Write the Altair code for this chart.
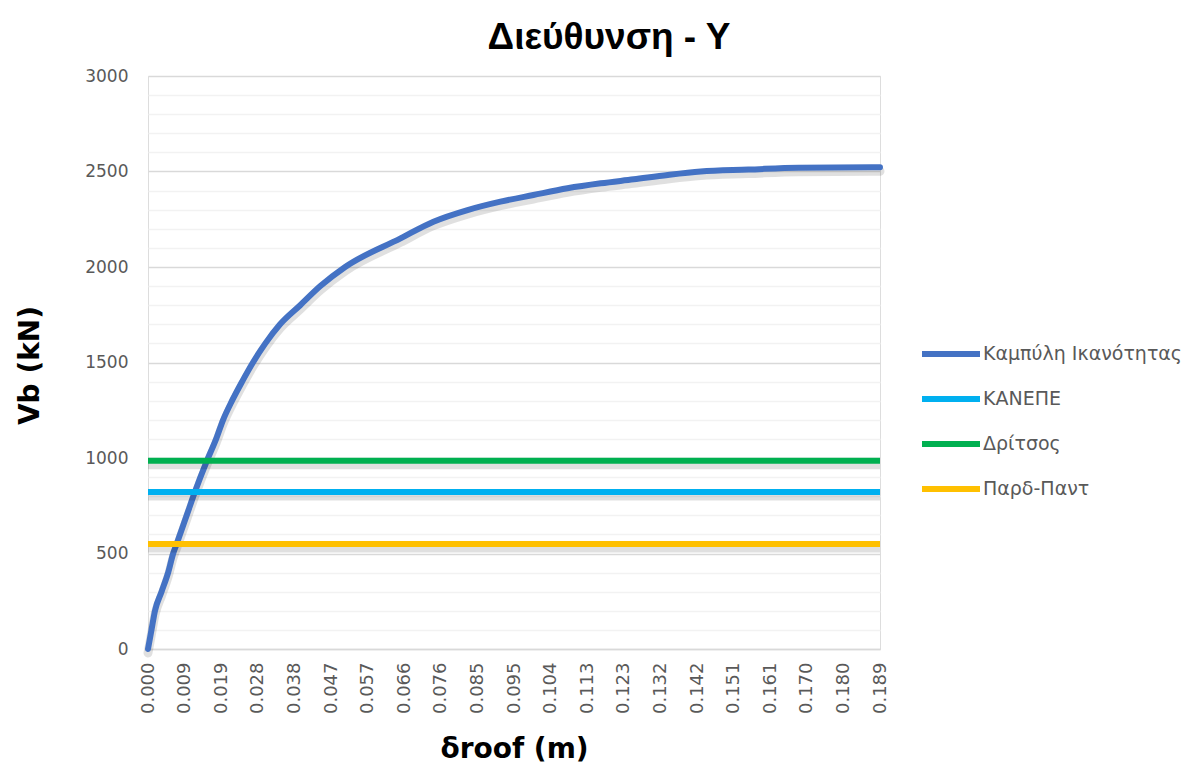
import json
import altair as alt
import pandas as pd

# ---- data ----
curve_x = [0.0000, 0.0009, 0.0018, 0.0035, 0.0052, 0.0065, 0.0074, 0.0100, 0.0121,
           0.0152, 0.0176, 0.0194, 0.0217, 0.0243, 0.0271, 0.0303, 0.0341, 0.0393,
           0.0445, 0.0509, 0.0652, 0.0737, 0.0825, 0.0910, 0.0995, 0.1083, 0.1169,
           0.1254, 0.1342, 0.1427, 0.1550, 0.1680, 0.1890]
curve_y = [0, 100, 200, 300, 400, 500, 550, 700, 822,
           985, 1100, 1200, 1300, 1400, 1500, 1600, 1700, 1800,
           1900, 2000, 2150, 2237, 2298, 2342, 2377, 2412, 2438,
           2459, 2482, 2500, 2510, 2520, 2522]

series_names = ["Καμπύλη Ικανότητας", "ΚΑΝΕΠΕ", "Δρίτσος", "Παρδ-Παντ"]
series_colors = ["#4472C4", "#00B0F0", "#00B050", "#FFC000"]
level_names = ["ΚΑΝΕΠΕ", "Δρίτσος", "Παρδ-Παντ"]
level_values = [822, 985, 550]
x_range = [0.0, 0.189]

x_step = 0.00945
x_tick_values = [0.0, 0.00945, 0.0189, 0.02835, 0.0378, 0.04725, 0.0567, 0.06615,
                 0.0756, 0.08505, 0.0945, 0.10395, 0.1134, 0.12285, 0.1323, 0.14175,
                 0.1512, 0.16065, 0.1701, 0.17955, 0.189]
x_tick_labels = ["0.000", "0.009", "0.019", "0.028", "0.038", "0.047", "0.057", "0.066",
                 "0.076", "0.085", "0.095", "0.104", "0.113", "0.123", "0.132", "0.142",
                 "0.151", "0.161", "0.170", "0.180", "0.189"]
y_tick_values = list(range(0, 3001, 100))

# ---- tables ----
curve_df = pd.DataFrame({"x": curve_x, "y": curve_y, "series": series_names[0], "order": range(len(curve_x))})
lvl_rows = []
for n, v in zip(level_names, level_values):
    for i, xx in enumerate(x_range):
        lvl_rows.append({"x": xx, "y": v, "series": n, "order": i})
lvl_df = pd.DataFrame(lvl_rows)

LABEL_FONT = "DejaVu Sans"
TITLE_FONT = "DejaVu Sans"

x_enc = alt.X(
    "x:Q",
    scale=alt.Scale(domain=x_range, nice=False, zero=False),
    axis=alt.Axis(
        values=x_tick_values,
        labelExpr=f"{json.dumps(x_tick_labels)}[round(datum.value / {x_step})]",
        labelAngle=270,
        labelAlign="right",
        labelBaseline="middle",
        labelPadding=13,
        labelFontSize=18,
        labelColor="#595959",
        labelFont=LABEL_FONT,
        grid=False,
        ticks=False,
        domain=True,
        domainColor="#D9D9D9",
        domainWidth=1.5,
        title="δroof (m)",
        titleFont=TITLE_FONT,
        titleFontSize=28,
        titleFontWeight="bold",
        titleColor="#000000",
        titleBaseline="middle",
        titleY=100,
        labelOverlap=False,
    ),
)

y_enc = alt.Y(
    "y:Q",
    scale=alt.Scale(domain=[0, 3000], nice=False),
    axis=alt.Axis(
        values=y_tick_values,
        labelExpr="datum.value % 500 === 0 ? datum.label : ''",
        format="d",
        labelFontSize=17,
        labelColor="#595959",
        labelFont=LABEL_FONT,
        labelPadding=20,
        ticks=False,
        domain=False,
        grid=True,
        gridColor=alt.condition("datum.value % 500 === 0", alt.value("#D9D9D9"), alt.value("#F2F2F2")),
        gridWidth=1.5,
        title="Vb (kN)",
        titleFont=TITLE_FONT,
        titleFontSize=28,
        titleFontWeight="bold",
        titleColor="#000000",
        titleAngle=-90,
        titleBaseline="middle",
        titleAlign="center",
        titleX=-118,
        titleY=289,
        labelOverlap=False,
    ),
)

color_enc = alt.Color(
    "series:N",
    scale=alt.Scale(domain=series_names, range=series_colors),
    legend=alt.Legend(
        title=None,
        orient="none",
        legendX=771,
        legendY=246,
        symbolType="stroke",
        symbolSize=3364,
        symbolStrokeWidth=6,
        labelFontSize=19,
        labelColor="#595959",
        labelFont=LABEL_FONT,
        labelOffset=0,
        rowPadding=1,
        padding=0,
        labelLimit=300,
    ),
)

shadow_curve = alt.Chart(curve_df).mark_line(
    color="#000000", opacity=0.12, strokeWidth=9, yOffset=4, strokeCap="round", interpolate="monotone"
).encode(x=x_enc, y=y_enc, order="order:Q")

shadow_lvl = alt.Chart(lvl_df).mark_line(
    color="#000000", opacity=0.12, strokeWidth=9, yOffset=4
).encode(x=x_enc, y=y_enc, detail="series:N", order="order:Q")

curve = alt.Chart(curve_df).mark_line(
    strokeWidth=6, strokeCap="round", strokeJoin="round", interpolate="monotone"
).encode(x=x_enc, y=y_enc, color=color_enc, order="order:Q")

levels = alt.Chart(lvl_df).mark_line(strokeWidth=6).encode(
    x=x_enc, y=y_enc, color=color_enc, order="order:Q"
)

chart = alt.layer(shadow_curve, curve, shadow_lvl, levels).properties(
    width=732,
    height=573,
    padding={"left": 148, "top": 76, "right": 311, "bottom": 120},
    autosize=alt.AutoSizeParams(type="none"),
    title=alt.TitleParams(
        text="Διεύθυνση - Υ",
        font="Liberation Sans",
        fontSize=37,
        fontWeight="bold",
        color="#000000",
        anchor="middle",
        frame="group",
        baseline="alphabetic",
        dx=95,
        dy=40,
        offset=21,
    ),
).configure_view(stroke=None).configure(background="#FFFFFF")

chart.save("out.html", embed_options={"renderer": "svg", "actions": False})
